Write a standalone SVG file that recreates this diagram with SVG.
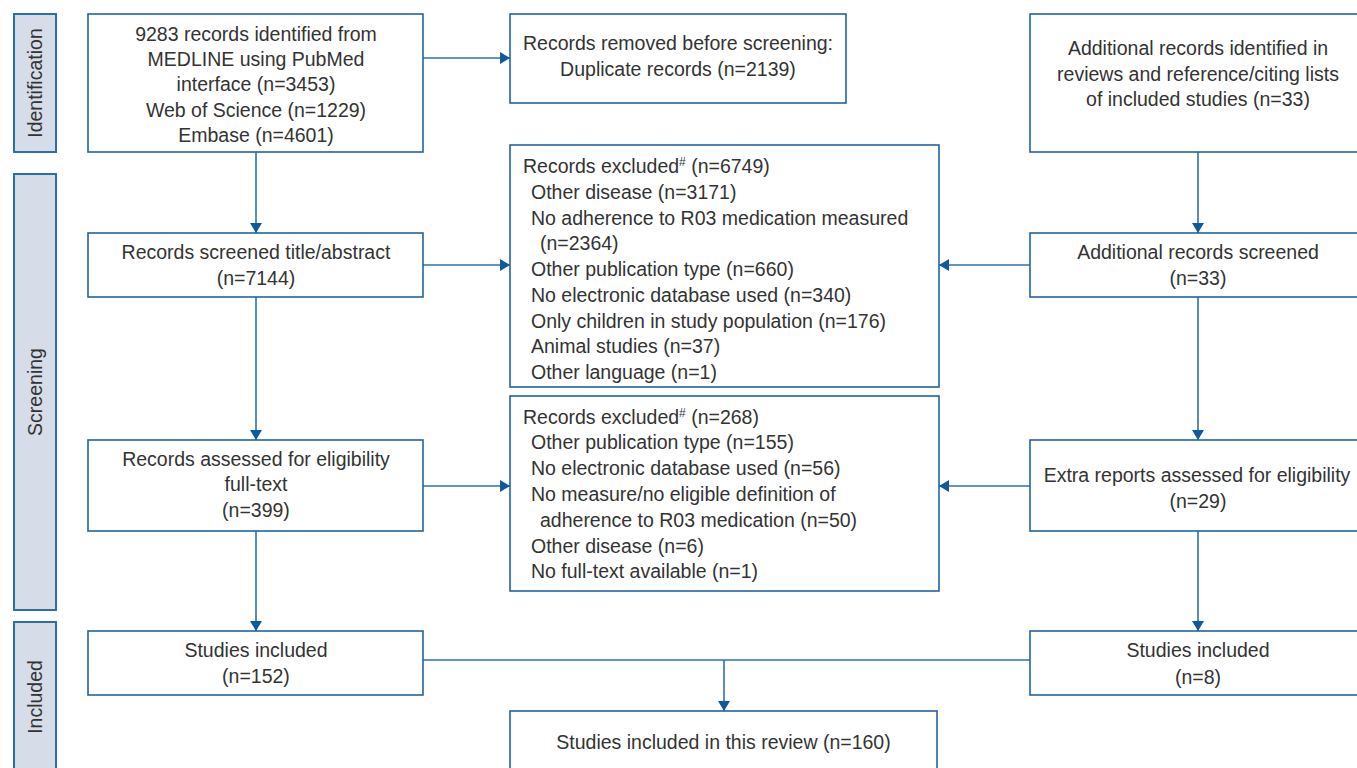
<svg xmlns="http://www.w3.org/2000/svg" width="1357" height="768" viewBox="0 0 1357 768">
<style>
  text { font-family: "Liberation Sans", Arial, sans-serif; font-size: 19.5px; fill: #333333; }
  .c { text-anchor: middle; }
  .box { fill: #ffffff; stroke: #1f63a5; stroke-width: 1.6; }
  .side { fill: #d6dde9; stroke: #2a6eb0; stroke-width: 2; }
  .conn { fill: none; stroke: #2c70b0; stroke-width: 1.6; }
  .sup { font-size: 12px; }
</style>
<defs>
  <marker id="arr" viewBox="0 0 10 12" refX="10" refY="6" markerWidth="10" markerHeight="12" markerUnits="userSpaceOnUse" orient="auto">
    <path d="M0,0 L10,6 L0,12 z" fill="#0f5a9c"/>
  </marker>
</defs>
<rect width="1357" height="768" fill="#ffffff"/>

<g id="phase-identification">
  <rect class="side" x="14" y="14" width="42" height="138"/>
  <text class="c" transform="translate(42,83) rotate(-90)">Identification</text>
</g>
<g id="phase-screening">
  <rect class="side" x="14" y="174" width="42" height="436"/>
  <text class="c" transform="translate(42,392) rotate(-90)">Screening</text>
</g>
<g id="phase-included">
  <rect class="side" x="14" y="622" width="42" height="160"/>
  <text class="c" transform="translate(42,697) rotate(-90)">Included</text>
</g>

<g id="connectors">
  <line class="conn" x1="256" y1="152" x2="256" y2="233" marker-end="url(#arr)"/>
  <line class="conn" x1="256" y1="297" x2="256" y2="440" marker-end="url(#arr)"/>
  <line class="conn" x1="256" y1="531" x2="256" y2="631" marker-end="url(#arr)"/>
  <line class="conn" x1="423" y1="58" x2="510" y2="58" marker-end="url(#arr)"/>
  <line class="conn" x1="423" y1="265" x2="510" y2="265" marker-end="url(#arr)"/>
  <line class="conn" x1="423" y1="486" x2="510" y2="486" marker-end="url(#arr)"/>
  <line class="conn" x1="1198" y1="152" x2="1198" y2="233" marker-end="url(#arr)"/>
  <line class="conn" x1="1198" y1="297" x2="1198" y2="440" marker-end="url(#arr)"/>
  <line class="conn" x1="1198" y1="531" x2="1198" y2="631" marker-end="url(#arr)"/>
  <line class="conn" x1="1030" y1="265" x2="939" y2="265" marker-end="url(#arr)"/>
  <line class="conn" x1="1030" y1="486" x2="939" y2="486" marker-end="url(#arr)"/>
  <line class="conn" x1="423" y1="660" x2="1030" y2="660"/>
  <line class="conn" x1="724" y1="660" x2="724" y2="711" marker-end="url(#arr)"/>
</g>

<g id="identified">
  <rect class="box" x="88" y="14" width="335" height="138"/>
  <text class="c" x="256" y="40.5">9283 records identified from</text>
  <text class="c" x="256" y="66">MEDLINE using PubMed</text>
  <text class="c" x="256" y="91">interface (n=3453)</text>
  <text class="c" x="256" y="116.5">Web of Science (n=1229)</text>
  <text class="c" x="256" y="142">Embase (n=4601)</text>
</g>

<g id="removed">
  <rect class="box" x="510" y="14" width="336" height="89"/>
  <text class="c" x="678" y="49.5">Records removed before screening:</text>
  <text class="c" x="678" y="76">Duplicate records (n=2139)</text>
</g>

<g id="additional-identified">
  <rect class="box" x="1030" y="14" width="340" height="138"/>
  <text class="c" x="1198" y="55">Additional records identified in</text>
  <text class="c" x="1198" y="81">reviews and reference/citing lists</text>
  <text class="c" x="1198" y="106">of included studies (n=33)</text>
</g>

<g id="screened">
  <rect class="box" x="88" y="233" width="335" height="64"/>
  <text class="c" x="256" y="259">Records screened title/abstract</text>
  <text class="c" x="256" y="285">(n=7144)</text>
</g>

<g id="excluded-1">
  <rect class="box" x="510" y="145" width="429" height="242"/>
  <text x="523" y="173">Records excluded<tspan class="sup" dy="-7">#</tspan><tspan dy="7"> (n=6749)</tspan></text>
  <text x="531" y="199">Other disease (n=3171)</text>
  <text x="531" y="224.5">No adherence to R03 medication measured</text>
  <text x="540" y="250">(n=2364)</text>
  <text x="531" y="276">Other publication type (n=660)</text>
  <text x="531" y="302">No electronic database used (n=340)</text>
  <text x="531" y="327.5">Only children in study population (n=176)</text>
  <text x="531" y="353">Animal studies (n=37)</text>
  <text x="531" y="378.5">Other language (n=1)</text>
</g>

<g id="additional-screened">
  <rect class="box" x="1030" y="233" width="340" height="64"/>
  <text class="c" x="1198" y="259">Additional records screened</text>
  <text class="c" x="1198" y="285">(n=33)</text>
</g>

<g id="assessed">
  <rect class="box" x="88" y="440" width="335" height="91"/>
  <text class="c" x="256" y="466">Records assessed for eligibility</text>
  <text class="c" x="256" y="491">full-text</text>
  <text class="c" x="256" y="517">(n=399)</text>
</g>

<g id="excluded-2">
  <rect class="box" x="510" y="396" width="429" height="195"/>
  <text x="523" y="423.5">Records excluded<tspan class="sup" dy="-7">#</tspan><tspan dy="7"> (n=268)</tspan></text>
  <text x="531" y="449">Other publication type (n=155)</text>
  <text x="531" y="475">No electronic database used (n=56)</text>
  <text x="531" y="501">No measure/no eligible definition of</text>
  <text x="540" y="527">adherence to R03 medication (n=50)</text>
  <text x="531" y="552.5">Other disease (n=6)</text>
  <text x="531" y="578">No full-text available (n=1)</text>
</g>

<g id="extra-assessed">
  <rect class="box" x="1030" y="440" width="340" height="91"/>
  <text class="c" x="1197" y="482">Extra reports assessed for eligibility</text>
  <text class="c" x="1198" y="508">(n=29)</text>
</g>

<g id="included-left">
  <rect class="box" x="88" y="631" width="335" height="64"/>
  <text class="c" x="256" y="657">Studies included</text>
  <text class="c" x="256" y="683">(n=152)</text>
</g>

<g id="included-right">
  <rect class="box" x="1030" y="631" width="340" height="64"/>
  <text class="c" x="1198" y="657">Studies included</text>
  <text class="c" x="1198" y="684">(n=8)</text>
</g>

<g id="included-total">
  <rect class="box" x="510" y="711" width="427" height="70"/>
  <text class="c" x="723.5" y="749">Studies included in this review (n=160)</text>
</g>
</svg>
